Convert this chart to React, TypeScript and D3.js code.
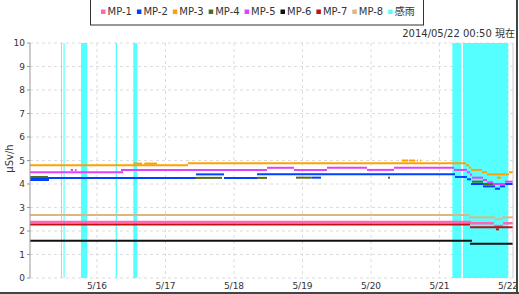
import React from "react";
import * as d3 from "d3";

const seriesNames = ["MP-1", "MP-2", "MP-3", "MP-4", "MP-5", "MP-6", "MP-7", "MP-8"];
const seriesColors = ["#ff66b3", "#0040ff", "#ffa000", "#4f6b1e", "#e040ff", "#111111", "#c01010", "#dcb880"];
const rainLabel = "感雨";
const rainColor = "#55ffff";

// segments: [startDay, endDay, value] (day of May 2014, fractional)
const mp1: [number, number, number][] = [
  [15.022, 21.46, 2.38], [21.445, 21.796, 2.33], [21.796, 21.927, 2.21], [21.927, 22.073, 2.33],
];
const mp2: [number, number, number][] = [
  [15.022, 15.299, 4.17], [15.022, 17.445, 4.26], [17.445, 17.854, 4.41], [17.854, 18.336, 4.26],
  [18.336, 21.226, 4.41], [19.13, 19.27, 4.27], [21.226, 21.401, 4.3], [21.401, 21.46, 4.2],
  [21.46, 21.635, 4.0], [21.635, 21.81, 3.9], [21.81, 21.883, 3.8], [21.883, 21.956, 3.9], [21.956, 22.073, 4.0],
];
const mp3: [number, number, number][] = [
  [15.022, 17.328, 4.8], [16.53, 16.66, 4.87], [16.69, 16.876, 4.87], [17.328, 21.387, 4.88],
  [20.448, 20.54, 5.0], [20.555, 20.642, 5.0], [20.672, 20.686, 5.0], [20.715, 20.73, 5.0],
  [21.387, 21.431, 4.8], [21.431, 21.46, 4.7], [21.46, 21.62, 4.6], [21.62, 21.693, 4.5],
  [21.693, 22.015, 4.41], [21.839, 21.898, 4.27], [22.015, 22.073, 4.5],
];
const mp4: [number, number, number][] = [
  [15.022, 15.285, 4.3], [17.445, 17.825, 4.26], [18.336, 18.482, 4.26], [18.905, 19.13, 4.27],
  [20.248, 20.277, 4.27], [21.474, 21.635, 4.1], [21.635, 21.825, 4.0], [21.898, 21.971, 4.0],
];
const mp5: [number, number, number][] = [
  [15.022, 16.38, 4.5], [15.616, 15.65, 4.6], [15.679, 15.701, 4.6], [16.35, 18.482, 4.6],
  [18.482, 18.876, 4.69], [18.876, 19.358, 4.6], [19.358, 19.942, 4.69], [19.942, 20.336, 4.6],
  [20.336, 21.212, 4.69], [21.212, 21.401, 4.6], [21.401, 21.445, 4.5], [21.445, 21.474, 4.4],
  [21.474, 21.635, 4.27], [21.635, 21.693, 4.17], [21.693, 21.781, 4.07], [21.781, 21.956, 4.0],
  [21.956, 22.073, 4.1],
];
const mp6: [number, number, number][] = [[15.022, 21.474, 1.58], [21.445, 22.073, 1.46]];
const mp7: [number, number, number][] = [[15.022, 21.445, 2.28], [21.445, 22.073, 2.16], [21.825, 21.868, 2.07]];
const mp8: [number, number, number][] = [
  [15.022, 21.445, 2.68], [21.431, 21.81, 2.58], [21.81, 21.912, 2.5], [21.912, 22.073, 2.58],
];
const seriesData = [mp1, mp2, mp3, mp4, mp5, mp6, mp7, mp8];

const rainBands: [number, number][] = [
  [15.474, 15.489], [15.511, 15.528], [15.766, 15.858], [16.273, 16.292],
  [16.53, 16.588], [21.187, 21.318], [21.343, 22.004],
];

const xTicks = [16, 17, 18, 19, 20, 21, 22];
const yTicks = [0, 1, 2, 3, 4, 5, 6, 7, 8, 9, 10];
const timestamp = "2014/05/22 00:50 現在";
const yTitle = "μSv/h";

const W = 519, H = 294;
const L = 30, R = 513, T = 43, B = 278;
const FONT = "'DejaVu Sans', 'Noto Sans CJK JP', sans-serif";

export default function App() {
  const x = d3.scaleLinear().domain([15.022, 22.073]).range([L, R]);
  const y = d3.scaleLinear().domain([0, 10]).range([B, T]);
  const line = d3.line<[number, number]>().x((d) => x(d[0])).y((d) => y(d[1]));

  const legendItems = [...seriesNames.map((n, i) => ({ n, c: seriesColors[i] })), { n: rainLabel, c: rainColor }];

  return (
    <svg width={W} height={H} style={{ position: "absolute", left: 0, top: 0, background: "#fff" }} fontFamily={FONT}>
      {/* grid */}
      {yTicks.map((t) => (
        <line key={"gy" + t} x1={L} x2={R} y1={y(t)} y2={y(t)} stroke="#dcdcdc" strokeDasharray="3,3" />
      ))}
      {xTicks.map((t) => (
        <line key={"gx" + t} x1={x(t)} x2={x(t)} y1={T} y2={B} stroke="#dcdcdc" strokeDasharray="3,3" />
      ))}
      {/* rain */}
      {rainBands.map((b, i) => (
        <rect key={"r" + i} x={x(b[0])} y={T} width={x(b[1]) - x(b[0])} height={B - T} fill={rainColor} />
      ))}
      {/* series */}
      {seriesData.map((segs, si) => (
        <g key={"s" + si}>
          {segs.map((s, j) => (
            <path key={j} d={line([[s[0], s[2]], [s[1], s[2]]]) || ""} stroke={seriesColors[si]}
              strokeWidth={si === 0 ? 2.5 : 2} fill="none" />
          ))}
        </g>
      ))}
      {/* axes */}
      <line x1={L} x2={L} y1={T} y2={B} stroke="#999" />
      <line x1={R} x2={R} y1={T} y2={B} stroke="#ccc" />
      {yTicks.map((t) => (
        <g key={"yt" + t}>
          <line x1={L - 3} x2={L} y1={y(t)} y2={y(t)} stroke="#999" />
          <text x={L - 5} y={y(t) + 3} fontSize={9} textAnchor="end" fill="#333">{t}</text>
        </g>
      ))}
      {xTicks.map((t) => (
        <text key={"xt" + t} x={x(t)} y={289} fontSize={9} textAnchor="middle" fill="#333">{"5/" + t}</text>
      ))}
      <text transform={`translate(13,${(T + B) / 2 - 2}) rotate(-90)`} fontSize={10} textAnchor="middle" fill="#333">{yTitle}</text>
      <text x={515} y={37} fontSize={10} textAnchor="end" fill="#333">{timestamp}</text>
      {/* legend */}
      <rect x={90.5} y={-2} width={333} height={27} fill="#fff" stroke="#333" />
      {legendItems.map((it, i) => (
        <g key={"l" + i} transform={`translate(${101 + i * 35.9},0)`}>
          <rect x={0} y={9.5} width={4.5} height={4.5} fill={it.c} />
          <text x={6.5} y={15} fontSize={10} fill="#333">{it.n}</text>
        </g>
      ))}
      {/* outer border */}
      <line x1={517} x2={517} y1={0} y2={H} stroke="#444" strokeWidth={2} />
      <line x1={0} x2={W} y1={293} y2={293} stroke="#444" strokeWidth={2} />
    </svg>
  );
}
